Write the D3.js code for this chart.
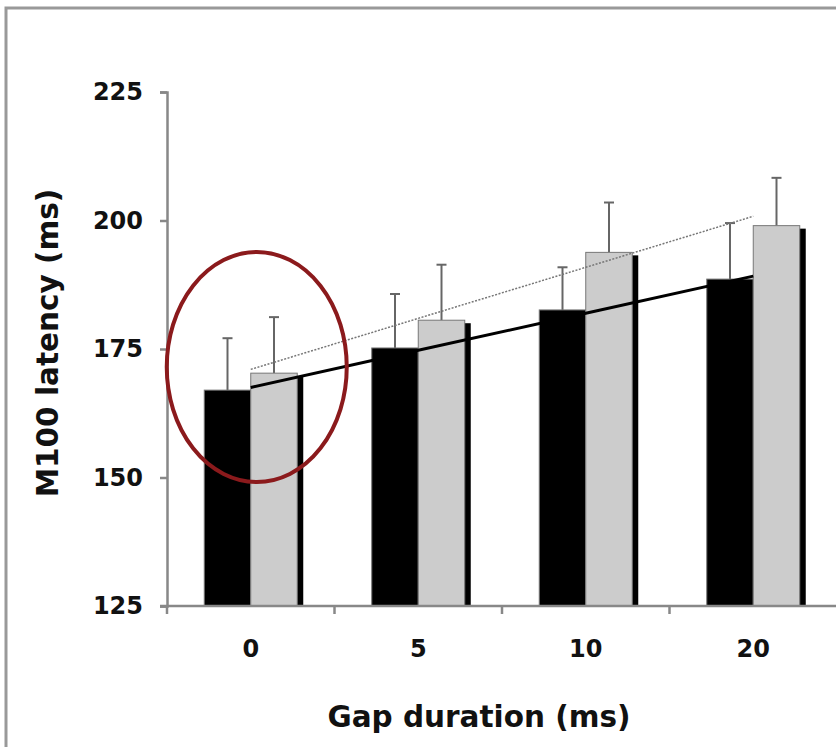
<!DOCTYPE html>
<html>
<head>
<meta charset="utf-8">
<script src="https://cdn.jsdelivr.net/npm/d3@7"></script>
<style>
  body { margin: 0; background: #fff; }
  svg { display: block; }
  text { font-family: Verdana, "DejaVu Sans", sans-serif; font-weight: bold; fill: #111; }
</style>
</head>
<body>
<div id="chart"></div>
<script>
// values
var gaps = ["0", "5", "10", "20"];
var blackMeans = [167.0, 175.2, 182.6, 188.6];
var blackErr = [10.1, 10.5, 8.3, 10.9];
var grayMeans = [170.3, 180.6, 193.8, 199.0];
var grayErr = [10.9, 10.8, 9.7, 9.3];
var yTicks = [125, 150, 175, 200, 225];

var width = 836, height = 747;

var svg = d3.select("#chart")
  .append("svg")
  .attr("width", width)
  .attr("height", height);

// outer frame (runs off the page right and bottom)
svg.append("rect")
  .attr("x", 6)
  .attr("y", 8)
  .attr("width", 900)
  .attr("height", 900)
  .attr("fill", "none")
  .attr("stroke", "#999")
  .attr("stroke-width", 3);

var y = d3.scaleLinear().domain([125, 225]).range([606, 92]);

var x0 = d3.scaleBand()
  .domain(gaps)
  .range([167, 837])
  .padding(0);

var bw = x0.bandwidth();
var x1 = d3.scaleBand()
  .domain(["black", "gray"])
  .range([bw / 2 - 46.5, bw / 2 + 46.5]);

var series = [
  { key: "black", means: blackMeans, err: blackErr, fill: "#000" },
  { key: "gray", means: grayMeans, err: grayErr, fill: "#cccccc" }
];

var g = svg.append("g");

// error bars (upper only)
series.forEach(function (s) {
  var eb = g.append("g").attr("class", "err-" + s.key);
  gaps.forEach(function (c, i) {
    var cx = x0(c) + x1(s.key) + x1.bandwidth() / 2;
    var top = y(s.means[i] + s.err[i]);
    eb.append("line")
      .attr("x1", cx).attr("x2", cx)
      .attr("y1", y(s.means[i])).attr("y2", top)
      .attr("stroke", "#666").attr("stroke-width", 2);
    eb.append("line")
      .attr("x1", cx - 5).attr("x2", cx + 5)
      .attr("y1", top).attr("y2", top)
      .attr("stroke", "#666").attr("stroke-width", 2);
  });
});

// shadow behind the gray bars
g.selectAll(".shadow")
  .data(grayMeans)
  .enter()
  .append("rect")
  .attr("class", "shadow")
  .attr("x", function (d, i) { return x0(gaps[i]) + x1("gray") + 6; })
  .attr("y", function (d) { return y(d) + 3; })
  .attr("width", x1.bandwidth())
  .attr("height", function (d) { return y(125) - y(d) - 3; })
  .attr("fill", "#000");

series.forEach(function (s) {
  g.selectAll(".bar-" + s.key)
    .data(s.means)
    .enter()
    .append("rect")
    .attr("class", "bar-" + s.key)
    .attr("x", function (d, i) { return x0(gaps[i]) + x1(s.key); })
    .attr("y", function (d) { return y(d); })
    .attr("width", x1.bandwidth())
    .attr("height", function (d) { return y(125) - y(d); })
    .attr("fill", s.fill)
    .attr("stroke", "#777")
    .attr("stroke-width", 1);
});

// axes
var yAxis = d3.axisLeft(y).tickValues(yTicks).tickSize(7).tickPadding(17);
var ya = svg.append("g")
  .attr("transform", "translate(167,0)")
  .call(yAxis);
ya.select(".domain").attr("stroke", "#888").attr("stroke-width", 2.5);
ya.selectAll(".tick line").attr("stroke", "#888").attr("stroke-width", 2.5);
ya.selectAll(".tick text")
  .style("font-size", "24px")
  .attr("fill", "#111");

// x axis line + tick marks at category boundaries
svg.append("line")
  .attr("x1", 160).attr("x2", width)
  .attr("y1", 606).attr("y2", 606)
  .attr("stroke", "#888").attr("stroke-width", 2.5);
svg.selectAll(".xtick")
  .data(gaps)
  .enter()
  .append("line")
  .attr("class", "xtick")
  .attr("x1", function (d) { return x0(d); })
  .attr("x2", function (d) { return x0(d); })
  .attr("y1", 606).attr("y2", 614)
  .attr("stroke", "#888").attr("stroke-width", 2.5);
svg.selectAll(".xlabel")
  .data(gaps)
  .enter()
  .append("text")
  .attr("class", "xlabel")
  .attr("x", function (d) { return x0(d) + bw / 2; })
  .attr("y", 657)
  .attr("text-anchor", "middle")
  .style("font-size", "24px")
  .text(function (d) { return d; });

// linear trend lines (least squares over category index)
function fit(vals) {
  var n = vals.length, mx = (n - 1) / 2, my = d3.mean(vals);
  var num = 0, den = 0;
  vals.forEach(function (v, i) { num += (i - mx) * (v - my); den += (i - mx) * (i - mx); });
  var b = num / den;
  return vals.map(function (v, i) { return my + b * (i - mx); });
}
var line = d3.line()
  .x(function (d, i) { return x0(gaps[i]) + bw / 2; })
  .y(function (d) { return y(d); });
var fb = fit(blackMeans), fg = fit(grayMeans);

svg.append("path")
  .datum(fg)
  .attr("d", line)
  .attr("fill", "none")
  .attr("stroke", "#777")
  .attr("stroke-width", 1.5)
  .style("stroke-dasharray", "2, 1.5");
svg.append("path")
  .datum(fb)
  .attr("d", line)
  .attr("fill", "none")
  .attr("stroke", "#000")
  .attr("stroke-width", 3);

// axis titles
svg.append("text")
  .attr("x", 479)
  .attr("y", 727)
  .attr("text-anchor", "middle")
  .style("font-size", "29.5px")
  .text("Gap duration (ms)");
svg.append("text")
  .attr("transform", "translate(58,343) rotate(-90)")
  .attr("text-anchor", "middle")
  .style("font-size", "29.5px")
  .text("M100 latency (ms)");

// highlight ellipse around the 0 ms pair
svg.append("ellipse")
  .attr("cx", x0("0") + bw / 2 + 6)
  .attr("cy", 367)
  .attr("rx", 90)
  .attr("ry", 115)
  .attr("fill", "none")
  .attr("stroke", "#8b1a1c")
  .attr("stroke-width", 4);
</script>
</body>
</html>
